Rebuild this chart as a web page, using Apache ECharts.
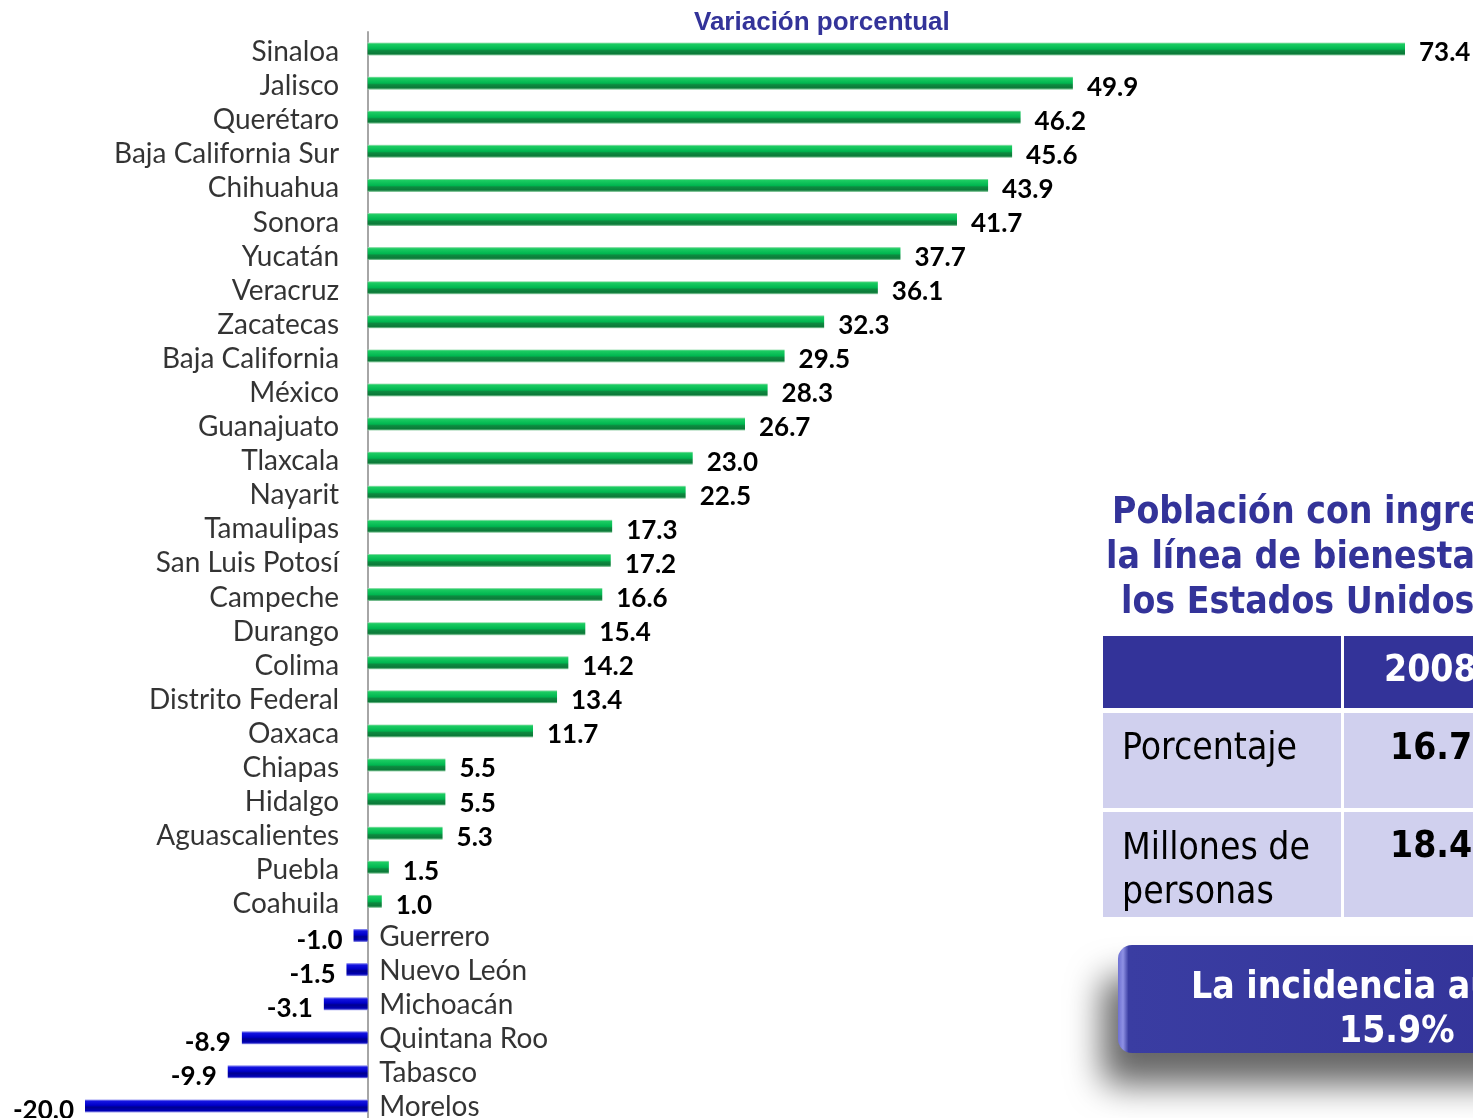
<!DOCTYPE html>
<html>
<head>
<meta charset="utf-8">
<script src="https://cdn.jsdelivr.net/npm/echarts@6/dist/echarts.min.js"></script>
<style>
  html, body { margin: 0; padding: 0; background: #ffffff; }
  #chart { width: 1473px; height: 1118px; }
</style>
</head>
<body>
<div id="chart"></div>
<script>
// Variación porcentual por entidad federativa
const states = [
  'Sinaloa', 'Jalisco', 'Querétaro', 'Baja California Sur', 'Chihuahua', 'Sonora',
  'Yucatán', 'Veracruz', 'Zacatecas', 'Baja California', 'México', 'Guanajuato',
  'Tlaxcala', 'Nayarit', 'Tamaulipas', 'San Luis Potosí', 'Campeche', 'Durango',
  'Colima', 'Distrito Federal', 'Oaxaca', 'Chiapas', 'Hidalgo', 'Aguascalientes',
  'Puebla', 'Coahuila', 'Guerrero', 'Nuevo León', 'Michoacán', 'Quintana Roo',
  'Tabasco', 'Morelos'
];
const changes = [
  73.4, 49.9, 46.2, 45.6, 43.9, 41.7,
  37.7, 36.1, 32.3, 29.5, 28.3, 26.7,
  23.0, 22.5, 17.3, 17.2, 16.6, 15.4,
  14.2, 13.4, 11.7, 5.5, 5.5, 5.3,
  1.5, 1.0, -1.0, -1.5, -3.1, -8.9,
  -9.9, -20.0
];

// Side table
const tableYear = '2008';
const tableRowNames = ['Porcentaje', 'Millones de\npersonas'];
const tableValues = [16.7, 18.4];
const incidenceValue = 15.9;

const NAVY = '#333399';
const LABEL_FONT = 'Lato, "Open Sans", sans-serif';
const TABLE_FONT = '"DejaVu Sans Condensed", "DejaVu Sans", sans-serif';

const greenFill = {
  type: 'linear', x: 0, y: 0, x2: 0, y2: 1,
  colorStops: [
    { offset: 0, color: '#b0e4c0' },
    { offset: 0.12, color: '#1ccc62' },
    { offset: 0.5, color: '#00b650' },
    { offset: 0.62, color: '#0d8a40' },
    { offset: 0.86, color: '#0b7a38' },
    { offset: 1, color: '#9fd6b0' }
  ]
};
const blueFill = {
  type: 'linear', x: 0, y: 0, x2: 0, y2: 1,
  colorStops: [
    { offset: 0, color: '#a4a4f4' },
    { offset: 0.15, color: '#1414e0' },
    { offset: 0.45, color: '#0000c8' },
    { offset: 0.6, color: '#000090' },
    { offset: 0.85, color: '#0000b4' },
    { offset: 1, color: '#9a9aee' }
  ]
};

const barData = changes.map(v => ({
  value: v,
  itemStyle: { color: v >= 0 ? greenFill : blueFill },
  label: v >= 0
    ? { position: 'right', distance: 14, offset: [0, 4] }
    : { position: 'left', distance: 11, offset: [0, 5] }
}));

const nameData = states.map((s, i) => ({
  value: [0, s],
  label: changes[i] >= 0
    ? { position: 'left', distance: 28, align: 'right', offset: [0, 3] }
    : { position: 'right', distance: 11, align: 'left', offset: [0, 1] }
}));

const chart = echarts.init(document.getElementById('chart'), null, { renderer: 'canvas' });

const graphics = [
  // subtitle
  {
    type: 'text', left: 694, top: 10,
    style: { text: 'Variación porcentual', fill: NAVY, font: 'bold 26px "Liberation Sans", Arial, sans-serif' }
  },
  // table heading
  {
    type: 'text', left: 1112, top: 495,
    style: { text: 'Población con ingreso', fill: NAVY, font: 'bold 37px ' + TABLE_FONT }
  },
  {
    type: 'text', left: 1106, top: 540,
    style: { text: 'la línea de bienestar en', fill: NAVY, font: 'bold 37px ' + TABLE_FONT }
  },
  {
    type: 'text', left: 1121, top: 585,
    style: { text: 'los Estados Unidos', fill: NAVY, font: 'bold 37px ' + TABLE_FONT }
  },
  // header row
  { type: 'rect', shape: { x: 1103, y: 636, width: 238, height: 72 }, style: { fill: NAVY } },
  { type: 'rect', shape: { x: 1344, y: 636, width: 140, height: 72 }, style: { fill: NAVY } },
  {
    type: 'text', left: 1384, top: 653,
    style: { text: tableYear, fill: '#ffffff', font: 'bold 37px ' + TABLE_FONT }
  },
  // body rows
  { type: 'rect', shape: { x: 1103, y: 713, width: 238, height: 95 }, style: { fill: '#d0d0ee' } },
  { type: 'rect', shape: { x: 1344, y: 713, width: 140, height: 95 }, style: { fill: '#d0d0ee' } },
  { type: 'rect', shape: { x: 1103, y: 812, width: 238, height: 105 }, style: { fill: '#d0d0ee' } },
  { type: 'rect', shape: { x: 1344, y: 812, width: 140, height: 105 }, style: { fill: '#d0d0ee' } },
  {
    type: 'text', left: 1122, top: 731,
    style: { text: tableRowNames[0], fill: '#000000', font: '37px ' + TABLE_FONT }
  },
  {
    type: 'text', left: 1122, top: 827,
    style: { text: tableRowNames[1], fill: '#000000', font: '37px ' + TABLE_FONT, lineHeight: 44 }
  },
  {
    type: 'text', left: 1390, top: 731,
    style: { text: tableValues[0].toFixed(1), fill: '#000000', font: 'bold 37px ' + TABLE_FONT }
  },
  {
    type: 'text', left: 1390, top: 829,
    style: { text: tableValues[1].toFixed(1), fill: '#000000', font: 'bold 37px ' + TABLE_FONT }
  },
  // callout box with drop shadow
  {
    type: 'rect',
    shape: { x: 1118, y: 945, width: 420, height: 108, r: 14 },
    style: {
      fill: {
        type: 'linear', x: 0, y: 0, x2: 1, y2: 0,
        colorStops: [
          { offset: 0, color: '#6d70d2' },
          { offset: 0.012, color: '#8e91e4' },
          { offset: 0.025, color: '#3a3da2' },
          { offset: 1, color: NAVY }
        ]
      },
      shadowColor: 'rgba(0,0,0,0.6)',
      shadowBlur: 34,
      shadowOffsetX: -16,
      shadowOffsetY: 32
    }
  },
  {
    type: 'text', left: 1191, top: 970,
    style: { text: 'La incidencia aumentó a', fill: '#ffffff', font: 'bold 37px ' + TABLE_FONT }
  },
  {
    type: 'text', left: 1339, top: 1014,
    style: { text: incidenceValue.toFixed(1) + '%', fill: '#ffffff', font: 'bold 37px ' + TABLE_FONT }
  }
];

chart.setOption({
  animation: false,
  backgroundColor: '#ffffff',
  grid: {
    left: 85, width: 1320, top: 32, height: 1091,
    containLabel: false, outerBoundsMode: 'none'
  },
  xAxis: {
    type: 'value', min: -20, max: 73.4,
    show: false, splitLine: { show: false }
  },
  yAxis: {
    type: 'category',
    data: states,
    inverse: true,
    axisLine: { show: true, onZero: true, lineStyle: { color: '#a6a6a6', width: 2 } },
    axisTick: { show: false },
    axisLabel: { show: false }
  },
  series: [
    {
      name: 'Variación porcentual',
      type: 'bar',
      data: barData,
      barWidth: 13,
      label: {
        show: true,
        color: '#000000',
        fontFamily: LABEL_FONT,
        fontWeight: 'bold',
        fontSize: 26,
        formatter: p => p.value.toFixed(1)
      },
      z: 3
    },
    {
      name: 'Entidad',
      type: 'scatter',
      data: nameData,
      symbolSize: 1,
      itemStyle: { color: 'rgba(0,0,0,0)' },
      label: {
        show: true,
        color: '#000000',
        fontFamily: LABEL_FONT,
        fontSize: 28,
        formatter: p => p.value[1]
      },
      silent: true,
      z: 4
    }
  ],
  graphic: graphics
});
</script>
</body>
</html>
